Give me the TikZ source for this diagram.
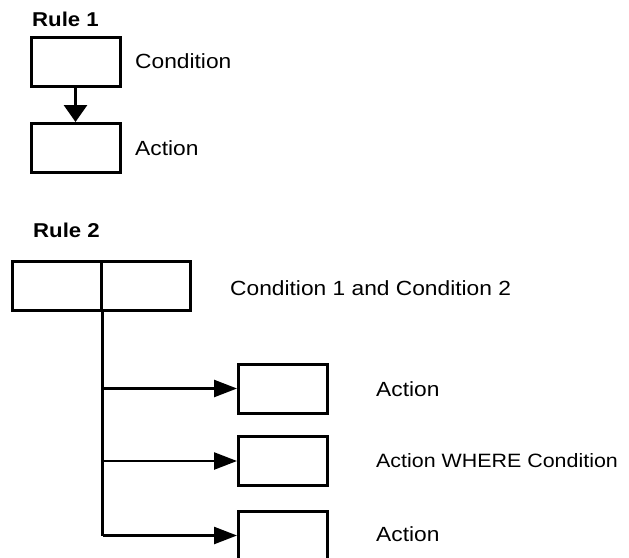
\documentclass[tikz,border=0pt]{standalone}
\usepackage{fontspec}
\setmainfont{Liberation Sans}[FakeStretch=1.11]
\usetikzlibrary{arrows.meta}
\tikzset{rbox/.style={draw,line width=3pt,minimum width=89pt,minimum height=49pt,inner sep=0pt}}
\tikzset{rtext/.style={anchor=base west,inner sep=0pt,font=\fontsize{20.5}{24}\selectfont}}
\tikzset{rhead/.style={anchor=base west,inner sep=0pt,font=\fontsize{20}{23}\selectfont\bfseries}}
\tikzset{vflow/.style={line width=3pt,-{Triangle[length=17pt,width=23pt]}}}
\tikzset{hflow/.style={line width=2.5pt,-{Triangle[length=23pt,width=17pt]}}}

\begin{document}
\begin{tikzpicture}[x=1pt,y=-1pt]
            \useasboundingbox (0,0) rectangle (629,557);
            % rule 1
            \node[rhead] (rule1) at (32,26) {Rule 1};
            \node[rbox] (cond) at (75.5,62) {};
            \node[rbox] (act) at (75.5,148) {};
            \node[rtext] (condtext) at (135,68) {Condition};
            \node[rtext] (acttext) at (135,155) {Action};
            \draw[vflow] (cond.south) -- (act.north);

            % rule 2
            \node[rhead] (rule2) at (33,237) {Rule 2};
            \node[rbox] (condl) at (56.5,285.5) {};
            \node[rbox] (condr) at (145.5,285.5) {};
            \node[rtext] (condboth) at (230,295) {Condition 1 and Condition 2};
            \node[rbox] (actA) at (283,388.5) {};
            \node[rbox] (actB) at (283,461) {};
            \node[rbox] (actC) at (283,535.5) {};
            \node[rtext] (actAtext) at (376,396) {Action};
            \node[rtext,font=\fontsize{19.3}{24}\selectfont] (actBtext) at (376,467) {Action WHERE Condition};
            \node[rtext] (actCtext) at (376,541) {Action};

            % trunk and branches
            \draw[line width=3pt] (condl.south east) -- (condl.south east |- actC.west);
            \draw[hflow] (condl.south east |- actA.west) -- (actA.west);
            \draw[hflow] (condl.south east |- actB.west) -- (actB.west);
            \draw[hflow] (condl.south east |- actC.west) -- (actC.west);
        \end{tikzpicture}
\end{document}
